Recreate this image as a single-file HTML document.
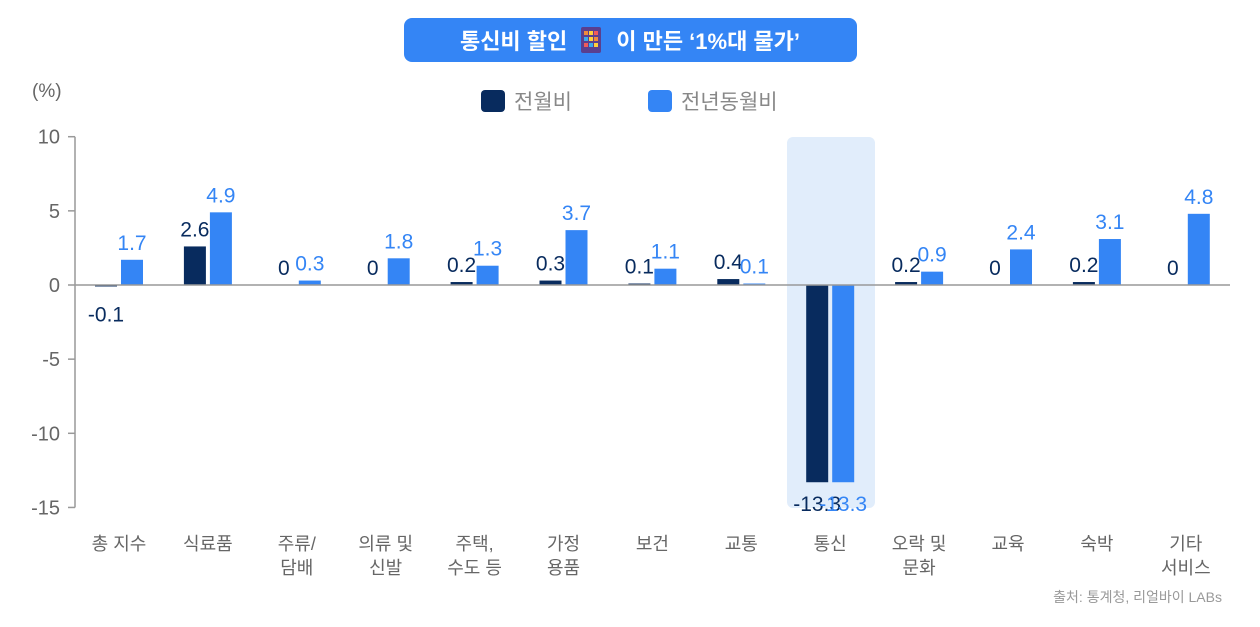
<!DOCTYPE html>
<html><head><meta charset="utf-8"><style>
body{margin:0;background:#fff;width:1260px;height:622px;overflow:hidden;font-family:"Liberation Sans","Noto Sans CJK KR",sans-serif}
</style></head><body>
<svg id="c" width="1260" height="622" xmlns="http://www.w3.org/2000/svg" font-family="Liberation Sans, Noto Sans CJK KR, sans-serif">
<rect x="404" y="18" width="453" height="44" rx="8" fill="#3485f5"/>
<text x="630" y="49" text-anchor="middle" font-size="22" font-weight="bold" fill="#fff"><tspan>통신비 할인 </tspan><tspan fill="#3485f5">___</tspan><tspan> 이 만든 ‘1%대 물가’</tspan></text>
<g>
<rect x="581" y="27" width="20" height="26" rx="2" fill="#5a3f8e"/>
<rect x="584" y="31" width="4" height="4" fill="#f08a3c"/><rect x="589" y="31" width="4" height="4" fill="#ffcf3a"/><rect x="594" y="31" width="4" height="4" fill="#f05a5a"/>
<rect x="584" y="37" width="4" height="4" fill="#3aa9f0"/><rect x="589" y="37" width="4" height="4" fill="#ffcf3a"/><rect x="594" y="37" width="4" height="4" fill="#f08a3c"/>
<rect x="584" y="43" width="4" height="4" fill="#f05a5a"/><rect x="589" y="43" width="4" height="4" fill="#3aa9f0"/><rect x="594" y="43" width="4" height="4" fill="#ffcf3a"/>
</g>
<text x="32" y="97" font-size="19" fill="#666">(%)</text>
<g>
<rect x="481" y="90" width="24" height="22" rx="4" fill="#082b5e"/>
<text x="514" y="109" font-size="21" fill="#888">전월비</text>
<rect x="648" y="90" width="24" height="22" rx="4" fill="#3485f5"/>
<text x="681" y="109" font-size="21" fill="#888">전년동월비</text>
</g>
<rect x="787" y="137" width="88" height="371" rx="6" fill="#e1edfb"/>
<g id="plot"></g>
<text x="1222" y="602" text-anchor="end" font-size="14" fill="#999">출처: 통계청, 리얼바이 LABs</text>
</svg>
<script>
const categories=[["총 지수"],["식료품"],["주류/","담배"],["의류 및","신발"],["주택,","수도 등"],["가정","용품"],["보건"],["교통"],["통신"],["오락 및","문화"],["교육"],["숙박"],["기타","서비스"]];
const momValues=[-0.1,2.6,0,0,0.2,0.3,0.1,0.4,-13.3,0.2,0,0.2,0];
const yoyValues=[1.7,4.9,0.3,1.8,1.3,3.7,1.1,0.1,-13.3,0.9,2.4,3.1,4.8];
const yTicks=[10,5,0,-5,-10,-15];
const NS="http://www.w3.org/2000/svg";
const g=document.getElementById('plot');
const y=v=>285-v*14.83;
const x=i=>119+i*88.9;
function mk(t,a,txt){const e=document.createElementNS(NS,t);for(const k in a)e.setAttribute(k,a[k]);if(txt!==undefined)e.textContent=txt;g.appendChild(e);return e;}
let e=mk('line',{x1:75,y1:y(10),x2:75,y2:y(-15),stroke:'#999','stroke-width':1.5});


yTicks.forEach(t=>{
 let l=mk('line',{x1:68,y1:y(t),x2:75,y2:y(t),stroke:'#999','stroke-width':1.5});
 
 
 let tx=mk('text',{x:60,y:y(t)+7,'text-anchor':'end','font-size':20,fill:'#666'},String(t));
 
 
});
categories.forEach((c,i)=>{
 const cx=x(i);
 [[momValues[i],-24,'#082b5e','bar-mom'],[yoyValues[i],2,'#3485f5','bar-yoy']].forEach(([v,off,col,nm])=>{
  const top=Math.min(y(v),y(0)),h=Math.abs(y(v)-y(0));
  let r=mk('rect',{x:cx+off,y:top,width:22,height:Math.max(h,0.01),fill:col});
  
  
  const ly=v>=0?y(v)-10:(v<-5?y(v)+29:y(v)+35);
  let t=mk('text',{x:cx+off+11,y:ly,'text-anchor':'middle','font-size':21,fill:col},String(v));
  
  
 });
 c.forEach((ln,j)=>{
  let t=mk('text',{x:cx,y:550+j*24,'text-anchor':'middle','font-size':18,fill:'#666'},ln);
  
  
 });
});
e=mk('line',{x1:75,y1:y(0),x2:1230,y2:y(0),stroke:'#999','stroke-width':1.5});


</script>
</body></html>
